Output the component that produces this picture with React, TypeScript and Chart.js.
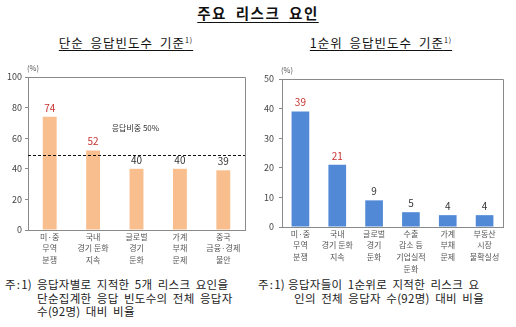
import React, { useEffect, useRef } from "react";
import { Chart, registerables } from "chart.js";

Chart.register(...registerables);

const leftCategories: string[][] = [
  ["미·중", "무역", "분쟁"],
  ["국내", "경기 둔화", "지속"],
  ["글로벌", "경기", "둔화"],
  ["가계", "부채", "문제"],
  ["중국", "금융·경제", "불안"],
];
const leftValues = [74, 52, 40, 40, 39];
const leftTicks = [0, 20, 40, 60, 80, 100];
const leftThreshold = 49;
const leftThresholdLabel = "응답비중 50%";

const rightCategories: string[][] = [
  ["미·중", "무역", "분쟁"],
  ["국내", "경기 둔화", "지속"],
  ["글로벌", "경기", "둔화"],
  ["수출", "감소 등", "기업실적", "둔화"],
  ["가계", "부채", "문제"],
  ["부동산", "시장", "불확실성"],
];
const rightValues = [39, 21, 9, 5, 4, 4];
const rightTicks = [0, 10, 20, 30, 40, 50];

const FONT = "'Noto Sans CJK KR', 'Noto Sans', sans-serif";
const RED = "#C8302E";
const DARK = "#333333";

type PanelOpts = {
  categories: string[][];
  values: number[];
  ticks: number[];
  color: string;
  barPct: number;
  pad: { top: number; right: number };
  yWidth: number;
  xHeight: number;
  yPad: number;
  redCount: number;
  threshold?: number;
  thresholdLabel?: string;
};

function Panel(props: PanelOpts & { left: number; top: number }) {
  const ref = useRef<HTMLCanvasElement>(null);
  useEffect(() => {
    const p = props;
    const max = p.ticks[p.ticks.length - 1];
    const overlay = {
      id: "overlay",
      afterDatasetsDraw(chart: any) {
        const ctx = chart.ctx;
        const a = chart.chartArea;
        const ys = chart.scales.y;
        ctx.save();
        ctx.strokeStyle = "#8a8a8a";
        ctx.lineWidth = 1;
        ctx.beginPath();
        ctx.moveTo(a.left, Math.round(a.top) + 0.5);
        ctx.lineTo(Math.round(a.right) + 0.5, Math.round(a.top) + 0.5);
        ctx.lineTo(Math.round(a.right) + 0.5, a.bottom);
        ctx.stroke();
        if (p.threshold !== undefined) {
          const y = Math.round(ys.getPixelForValue(p.threshold)) + 0.5;
          ctx.strokeStyle = "#111";
          ctx.setLineDash([3, 2]);
          ctx.beginPath();
          ctx.moveTo(a.left, y);
          ctx.lineTo(a.right, y);
          ctx.stroke();
          ctx.setLineDash([]);
        }
        if (p.thresholdLabel) {
          ctx.fillStyle = DARK;
          ctx.font = `8px ${FONT}`;
          ctx.textAlign = "center";
          ctx.textBaseline = "middle";
          const x = a.left + (a.right - a.left) * 0.495;
          ctx.fillText(p.thresholdLabel, x, ys.getPixelForValue(67));
        }
        const meta = chart.getDatasetMeta(0);
        ctx.font = `10px ${FONT}`;
        ctx.textAlign = "center";
        ctx.textBaseline = "middle";
        meta.data.forEach((bar: any, i: number) => {
          ctx.fillStyle = i < p.redCount ? RED : DARK;
          ctx.fillText(String(p.values[i]), bar.x, bar.y - 9);
        });
        ctx.fillStyle = "#555";
        ctx.font = `7.5px ${FONT}`;
        ctx.textAlign = "left";
        ctx.fillText("(%)", a.left - 1, a.top - 9);
        ctx.restore();
      },
    };
    const chart = new Chart(ref.current as HTMLCanvasElement, {
      type: "bar",
      data: {
        labels: p.categories,
        datasets: [
          {
            data: p.values,
            backgroundColor: p.color,
            barPercentage: p.barPct,
            categoryPercentage: 1,
          },
        ],
      },
      options: {
        animation: false,
        responsive: false,
        maintainAspectRatio: false,
        layout: { padding: { left: 0, top: p.pad.top, right: p.pad.right, bottom: 0 } },
        plugins: { legend: { display: false }, tooltip: { enabled: false } },
        scales: {
          x: {
            grid: { display: false, drawTicks: false },
            border: { display: true, color: "#8a8a8a" },
            ticks: {
              color: "#555",
              font: { family: FONT, size: 8, lineHeight: 1.45 },
              padding: 1,
              maxRotation: 0,
              autoSkip: false,
            },
            afterFit(scale: any) {
              scale.height = p.xHeight;
            },
          },
          y: {
            min: 0,
            max: max,
            afterBuildTicks(scale: any) {
              scale.ticks = p.ticks.map((v) => ({ value: v }));
            },
            grid: { drawOnChartArea: false, drawTicks: true, tickLength: 3, color: "#8a8a8a" },
            border: { display: true, color: "#8a8a8a" },
            ticks: {
              color: "#444",
              font: { family: FONT, size: 9 },
              padding: p.yPad,
            },
            afterFit(scale: any) {
              scale.width = p.yWidth;
            },
          },
        },
      },
      plugins: [overlay],
    });
    return () => chart.destroy();
  }, []);
  return (
    <canvas
      ref={ref}
      width={258}
      height={215}
      style={{ position: "absolute", left: props.left, top: props.top, width: 258, height: 215 }}
    />
  );
}

const txt: React.CSSProperties = {
  position: "absolute",
  fontFamily: FONT,
  whiteSpace: "nowrap",
  color: "#222",
};

function Line(props: { x: number; y: number; children: React.ReactNode; ws?: number }) {
  return (
    <div
      style={{
        ...txt,
        left: props.x,
        top: props.y - 8,
        fontSize: 11.5,
        lineHeight: "16px",
        wordSpacing: props.ws ?? 2.5,
        letterSpacing: 0.3,
      }}
    >
      {props.children}
    </div>
  );
}

function Sub(props: { cx: number; text: string }) {
  return (
    <div
      style={{
        ...txt,
        left: props.cx - 100,
        width: 200,
        textAlign: "center",
        top: 34,
        fontSize: 12.5,
        lineHeight: "18px",
        color: "#111",
        letterSpacing: 1,
        wordSpacing: 3,
      }}
    >
      <span style={{ textDecoration: "underline", textUnderlineOffset: 2 }}>
        {props.text}
        <sup style={{ fontSize: 7, verticalAlign: "top", position: "relative", top: -3 }}>1)</sup>
      </span>
    </div>
  );
}

export default function App() {
  return (
    <div
      style={{
        position: "fixed",
        left: 0,
        top: 0,
        width: 516,
        height: 327,
        background: "#fff",
        overflow: "hidden",
      }}
    >
      <div
        style={{
          ...txt,
          left: 0,
          width: 516,
          textAlign: "center",
          top: 3,
          fontSize: 14.5,
          lineHeight: "20px",
          fontWeight: 700,
          letterSpacing: 1.5,
          wordSpacing: 4,
          color: "#111",
        }}
      >
        <span style={{ textDecoration: "underline", textUnderlineOffset: 3 }}>주요 리스크 요인</span>
      </div>
      <Sub cx={126} text="단순 응답빈도수 기준" />
      <Sub cx={381} text="1순위 응답빈도수 기준" />
      <Panel
        left={0}
        top={60}
        categories={leftCategories}
        values={leftValues}
        ticks={leftTicks}
        color="#F9BE8E"
        barPct={0.32}
        pad={{ top: 17, right: 13 }}
        yWidth={28}
        xHeight={45}
        yPad={3}
        redCount={2}
        threshold={leftThreshold}
        thresholdLabel={leftThresholdLabel}
      />
      <Panel
        left={258}
        top={60}
        categories={rightCategories}
        values={rightValues}
        ticks={rightTicks}
        color="#5189D6"
        barPct={0.48}
        pad={{ top: 19, right: 13 }}
        yWidth={24}
        xHeight={48}
        yPad={5}
        redCount={2}
      />
      <Line x={5} y={284} ws={-2}>주 : 1)</Line>
      <Line x={37} y={284}>응답자별로 지적한 5개 리스크 요인을</Line>
      <Line x={37} y={298}>단순집계한 응답 빈도수의 전체 응답자</Line>
      <Line x={37} y={311}>수(92명) 대비 비율</Line>
      <Line x={258} y={284} ws={-2}>주 : 1)</Line>
      <Line x={288} y={284}>응답자들이 1순위로 지적한 리스크 요</Line>
      <Line x={294} y={298}>인의 전체 응답자 수(92명) 대비 비율</Line>
    </div>
  );
}
